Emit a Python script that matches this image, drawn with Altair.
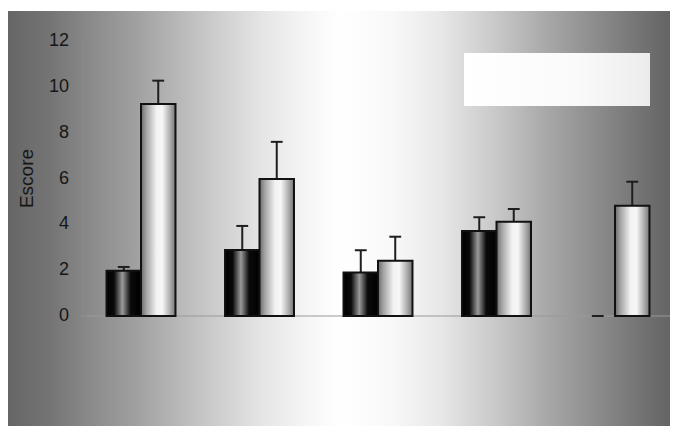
import altair as alt
import pandas as pd

# ---- data ----
group_index = [0, 1, 2, 3, 4]
black_values = [1.97, 2.88, 1.90, 3.71, 0.0]
black_errors = [0.17, 1.05, 0.97, 0.60, 0.0]
white_values = [9.25, 5.98, 2.41, 4.11, 4.81]
white_errors = [1.02, 1.62, 1.05, 0.56, 1.05]
y_ticks = [0, 2, 4, 6, 8, 10, 12]

W, H = 662, 415
BAR = 0.291   # bar width in group units
CAP = 0.05    # half cap width in group units

rows = []
for g, bv, be, wv, we in zip(group_index, black_values, black_errors, white_values, white_errors):
    rows.append(dict(group=g, series="black", value=bv, err=be,
                     xl=g - BAR, xr=g, xm=g - BAR / 2))
    rows.append(dict(group=g, series="white", value=wv, err=we,
                     xl=g, xr=g + BAR, xm=g + BAR / 2))
df = pd.DataFrame(rows)
df["top"] = df["value"] + df["err"]
df["cl"] = df["xm"] - CAP
df["cr"] = df["xm"] + CAP

ticks_df = pd.DataFrame({"t": y_ticks})

xscale = alt.Scale(domain=[-1.1224, 4.4641], nice=False, zero=False)
yscale = alt.Scale(domain=[-4.80, 13.31], nice=False, zero=False)


def grad(stops):
    return alt.LinearGradient(
        gradient="linear", x1=0, x2=1, y1=0, y2=0,
        stops=[alt.GradientStop(offset=o, color=c) for o, c in stops])


bg_grad = grad([(0, "#666666"), (0.063, "#747474"), (0.124, "#8a8a8a"), (0.193, "#a0a0a0"),
                (0.258, "#b8b8b8"), (0.323, "#d0d0d0"), (0.387, "#e6e6e6"), (0.452, "#f6f6f6"),
                (0.503, "#ffffff"), (0.582, "#f8f8f8"), (0.653, "#e8e8e8"), (0.743, "#c6c6c6"),
                (0.819, "#a6a6a6"), (0.894, "#8a8a8a"), (0.97, "#6e6e6e"), (1, "#646464")])
black_grad = grad([(0, "#000000"), (0.22, "#0a0a0a"), (0.46, "#9a9a9a"),
                   (0.7, "#0a0a0a"), (1, "#000000")])
white_grad = grad([(0, "#6a6a6a"), (0.15, "#a2a2a2"), (0.45, "#f2f2f2"), (0.62, "#f6f6f6"),
                   (0.85, "#ababab"), (1, "#767676")])
box_grad = grad([(0, "#ffffff"), (0.6, "#fafafa"), (1, "#ececec")])

one = pd.DataFrame({"a": [0]})

background = alt.Chart(one).mark_rect(color=bg_grad).encode(
    x=alt.value(0), x2=alt.value(W), y=alt.value(0), y2=alt.value(H))

legend_box = alt.Chart(one).mark_rect(color=box_grad).encode(
    x=alt.value(456), x2=alt.value(642), y=alt.value(42), y2=alt.value(95))

baseline = alt.Chart(one).mark_rule(color="#999999", strokeWidth=1).encode(
    x=alt.value(73), x2=alt.value(W),
    y=alt.Y(datum=0, scale=yscale, axis=None))

axis_line = alt.Chart(one).mark_rule(color="#8a8a8a", strokeWidth=1).encode(
    x=alt.value(75),
    y=alt.Y(datum=0, scale=yscale, axis=None), y2=alt.Y2(datum=12))

tick_marks = alt.Chart(ticks_df).mark_rule(color="#8a8a8a", strokeWidth=1).encode(
    x=alt.value(73), x2=alt.value(79),
    y=alt.Y("t:Q", scale=yscale, axis=None))

tick_labels = alt.Chart(ticks_df).mark_text(
    align="right", baseline="middle", fontSize=18, font="Liberation Sans",
    color="#161616").encode(
    x=alt.value(61), y=alt.Y("t:Q", scale=yscale, axis=None), text="t:Q")

ytitle = alt.Chart(one).mark_text(text="Escore", angle=270, fontSize=19,
                                  font="Liberation Sans", color="#161616").encode(
    x=alt.value(19), y=alt.Y(datum=6, scale=yscale, axis=None))


def bars(series, fill):
    return alt.Chart(df).transform_filter(
        f"datum.series == '{series}' && datum.value > 0").mark_rect(
        color=fill, stroke="#111111", strokeWidth=2).encode(
        x=alt.X("xl:Q", scale=xscale, axis=None), x2="xr:Q",
        y=alt.Y("value:Q", scale=yscale, axis=None),
        y2=alt.Y2(datum=0))


err_line = alt.Chart(df).mark_rule(color="#1e1e1e", strokeWidth=2).encode(
    x=alt.X("xm:Q", scale=xscale, axis=None),
    y=alt.Y("value:Q", scale=yscale, axis=None), y2="top:Q")

err_cap = alt.Chart(df).mark_rule(color="#1e1e1e", strokeWidth=2).encode(
    x=alt.X("cl:Q", scale=xscale, axis=None), x2="cr:Q",
    y=alt.Y("top:Q", scale=yscale, axis=None))

chart = alt.layer(
    background, legend_box, baseline, axis_line, tick_marks, tick_labels, ytitle,
    err_line, err_cap, bars("black", black_grad), bars("white", white_grad)
).properties(
    width=W, height=H, autosize="none",
    padding={"left": 0, "top": 3, "right": 0, "bottom": 0}
).configure_view(stroke=None)

chart.save("out.html", embed_options={"renderer": "svg", "actions": False})
